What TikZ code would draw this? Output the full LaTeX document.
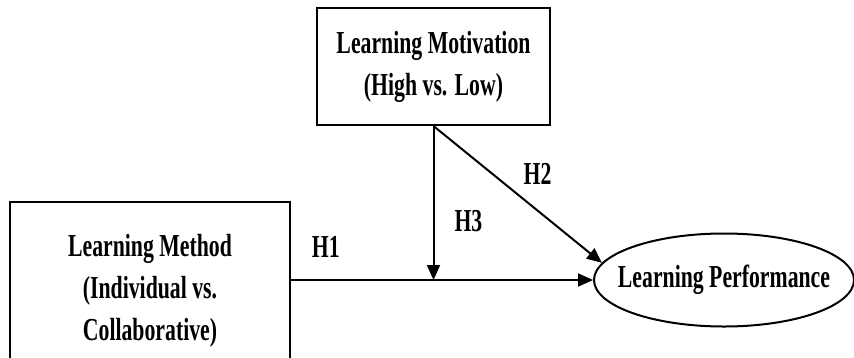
\documentclass[tikz,border=0pt]{standalone}
\usepackage{fontspec}
\setmainfont[FakeStretch=0.68]{Liberation Serif}
\usetikzlibrary{arrows.meta,shapes.geometric}
\newcommand{\diagfont}{\fontsize{32}{42}\selectfont\bfseries}
\begin{document}
\begin{tikzpicture}[x=1pt, y=-1pt,
    box/.style={rectangle, draw, line width=2pt, align=center, font=\diagfont},
    oval/.style={ellipse, draw, line width=2pt, inner xsep=-15pt, inner ysep=0pt, minimum width=260pt, minimum height=93pt, font=\diagfont},
    arrow/.style={-{Triangle[length=15pt,width=13pt]}, line width=2pt},
    hyp/.style={inner sep=0pt, font=\diagfont},
]
\useasboundingbox (0,0) rectangle (854,357);
\clip (0,0) rectangle (854,357);

\node[box, minimum width=280pt, minimum height=178pt] (MET) at (150,291) {Learning Method\\(Individual vs.\\Collaborative)};
\node[box, minimum width=233pt, minimum height=117pt] (MOT) at (433.5,66.5) {Learning Motivation\\(High vs. Low)};
\node[oval] (PERF) at (724,280) {Learning Performance};
\coordinate (MOD) at (MOT.south |- PERF.west);

\draw[arrow] (MET.east |- PERF.west) -- (PERF.west) node[hyp, pos=0.115, above=22pt] {H1};
\draw[arrow] (MOT.south) -- (MOD) node[hyp, pos=0.62, right=20pt] {H3};
\draw[arrow] (MOT.south) -- (PERF.172) node[hyp, pos=0.53, anchor=south west, yshift=13pt] {H2};
\end{tikzpicture}
\end{document}
